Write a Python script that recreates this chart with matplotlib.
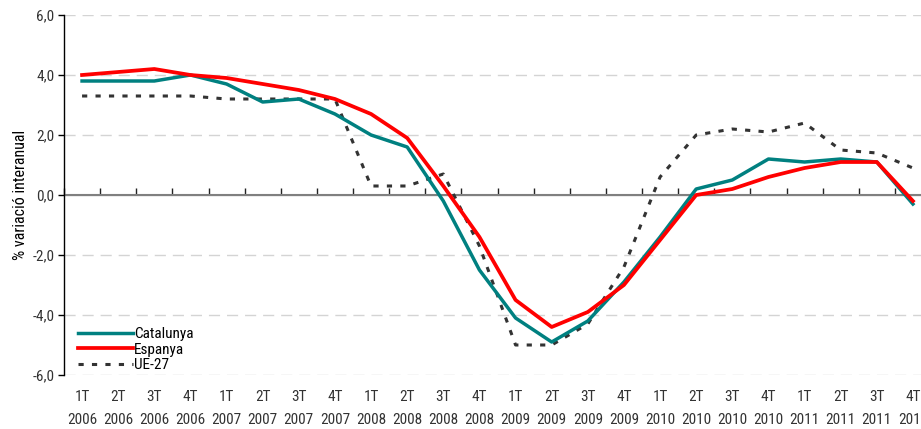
import matplotlib
matplotlib.use("Agg")
import matplotlib.pyplot as plt
from matplotlib import font_manager
import numpy as np

quarters = ["1T", "2T", "3T", "4T"] * 6
years = [str(y) for y in range(2006, 2012) for _ in range(4)]
labels = [f"{q}\n{y}" for q, y in zip(quarters, years)]

catalunya = [3.8, 3.8, 3.8, 4.0, 3.7, 3.1, 3.2, 2.7, 2.0, 1.6, -0.2, -2.5,
             -4.1, -4.9, -4.2, -2.9, -1.4, 0.2, 0.5, 1.2, 1.1, 1.2, 1.1, -0.3]
espanya = [4.0, 4.1, 4.2, 4.0, 3.9, 3.7, 3.5, 3.2, 2.7, 1.9, 0.3, -1.4,
           -3.5, -4.4, -3.9, -3.0, -1.5, 0.0, 0.2, 0.6, 0.9, 1.1, 1.1, -0.2]
ue27 = [3.3, 3.3, 3.3, 3.3, 3.2, 3.2, 3.2, 3.2, 0.3, 0.3, 0.7, -1.7,
        -5.0, -5.0, -4.3, -2.4, 0.6, 2.0, 2.2, 2.1, 2.4, 1.5, 1.4, 0.9]

yticks = [-6, -4, -2, 0, 2, 4, 6]

narrow = None
for cand in ['Liberation Sans Narrow', 'Arial Narrow', 'Roboto Condensed', 'Open Sans Condensed']:
    try:
        font_manager.findfont(cand, fallback_to_default=False)
        narrow = cand
        break
    except Exception:
        pass
if narrow:
    fam = [narrow, 'DejaVu Sans']
    fs = 11
else:
    fam = ['Liberation Sans', 'DejaVu Sans']
    fs = 9.5
plt.rcParams['font.family'] = fam

fig = plt.figure(figsize=(9.21, 4.29), dpi=100)
ax = fig.add_axes([64/921, 1-375/429, 867/921, 360/429])

x = np.arange(len(labels))
ax.set_xlim(-0.5, len(labels) - 0.5)
ax.set_ylim(-6, 6)

for v in yticks:
    if v != 0:
        ax.axhline(v, color='#d4d4d4', lw=1.0, ls=(0, (8, 5)), zorder=0)
ax.axhline(0, color='#808080', lw=1.5, zorder=1)

ax.plot(x, ue27, color='#333333', lw=2.2, ls=(0, (1.7, 2.7)), label='UE-27', zorder=2)
ax.plot(x, catalunya, color='#008080', lw=2.5, label='Catalunya', zorder=3)
ax.plot(x, espanya, color='#ff0000', lw=2.7, label='Espanya', zorder=4)

for s in ['top', 'right']:
    ax.spines[s].set_visible(False)
ax.spines['left'].set_color('black')
ax.spines['left'].set_linewidth(1.0)
ax.spines['bottom'].set_visible(False)

ax.set_yticks(yticks)
ax.set_yticklabels([f"{v:.1f}".replace('.', ',') for v in yticks], fontsize=fs, color='#333333')
ax.tick_params(axis='y', direction='out', length=4, width=1, pad=3)

sec0 = ax.secondary_xaxis(0.5)
sec0.set_xticks(np.arange(-0.5, len(labels)))
sec0.set_xticklabels([])
sec0.tick_params(axis='x', direction='out', length=5, width=1, colors='#222222')
sec0.spines['bottom'].set_visible(False)
ax.set_xticks([])

sec = ax.secondary_xaxis(0.0)
sec.set_xticks(x)
sec.set_xticklabels(labels, fontsize=fs, color='#333333', linespacing=1.75)
sec.tick_params(axis='x', length=0, pad=11)
sec.spines['bottom'].set_visible(False)

ax.set_ylabel('% variació interanual', fontsize=fs + 0.5, labelpad=3)

handles, lbls = ax.get_legend_handles_labels()
order = [1, 2, 0]
ax.legend([handles[i] for i in order], [lbls[i] for i in order], loc='lower left',
          bbox_to_anchor=(0.0, -0.03), frameon=False, fontsize=fs, handlelength=3.6,
          handletextpad=0.1, labelspacing=0.1, borderaxespad=0.5)

fig.savefig('out.png', dpi=100)
